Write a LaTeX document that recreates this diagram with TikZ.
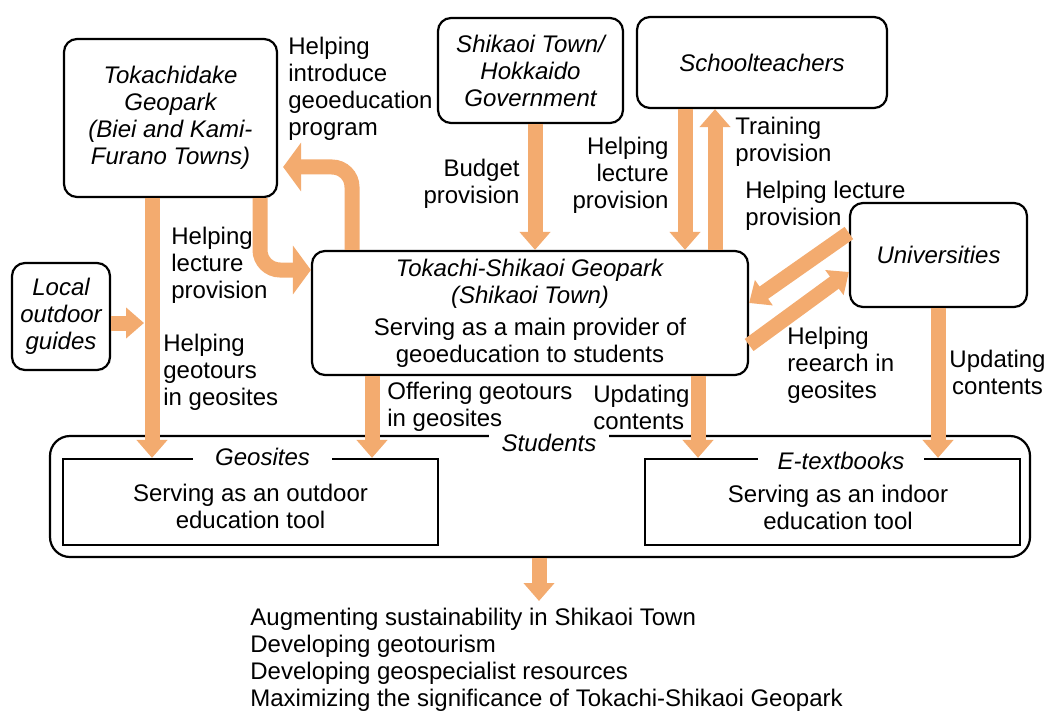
\documentclass[tikz,border=0pt]{standalone}
\usepackage{fontspec}
\setmainfont{Liberation Sans}
\usetikzlibrary{arrows.meta}
\definecolor{flowcol}{RGB}{243,171,111}
\newcommand{\figfont}{\fontsize{12}{13.5}\selectfont}

\begin{document}
\begin{tikzpicture}[x=0.5pt,y=-0.5pt,font=\figfont,
  box/.style={draw,line width=1.1pt,rounded corners=6.5pt,align=center,inner sep=0pt},
  tool/.style={draw,line width=1.1pt,inner sep=0pt,minimum width=187.5pt,minimum height=43pt},
  tag/.style={fill=white,inner ysep=1pt,font=\figfont\itshape},
  lbl/.style={align=left,inner sep=0pt},
  flow/.style={flowcol,line width=7.5pt,-{Triangle[width=15pt,length=9pt]}},
  bent/.style={flowcol,line width=7.5pt,rounded corners=10pt,-{Triangle[width=24pt,length=9pt]}}]
\useasboundingbox (0,0) rectangle (1047,711);

\node[box,minimum width=106.5pt,minimum height=79pt,font=\figfont\itshape] (tok) at (170.5,118) {Tokachidake\\Geopark\\(Biei and Kami-\\Furano Towns)};
\node[box,minimum width=92.5pt,minimum height=52.5pt,font=\figfont\itshape] (gov) at (530.5,70.5) {Shikaoi Town/\\Hokkaido\\Government};
\node[box,minimum width=125pt,minimum height=45.5pt,font=\figfont\itshape] (tea) at (762,62.5) {Schoolteachers};
\node[box,minimum width=49pt,minimum height=53.5pt,font=\figfont\itshape] (guide) at (61,316.5) {Local\\outdoor\\guides};
\node[box,minimum width=218pt,minimum height=62pt] (main) at (530,313) {\textit{Tokachi-Shikaoi Geopark}\\\textit{(Shikaoi Town)}\\[2.5pt]Serving as a main provider of\\geoeducation to students};
\node[box,minimum width=88.5pt,minimum height=52pt,font=\figfont\itshape] (uni) at (938.5,255) {Universities};

\node[box,rounded corners=10pt,minimum width=490pt,minimum height=60.5pt] (stud) at (540,496.5) {};
\node[tool] (geo) at (250.5,502) {};
\node[tool] (etx) at (832.5,502) {};
\node[align=center,inner sep=0pt] (geotext) at (250.5,506) {Serving as an outdoor\\education tool};
\node[align=center,inner sep=0pt] (etxtext) at (838,507) {Serving as an indoor\\education tool};
\node[tag,inner xsep=11pt] (geotag) at (262.5,457) {Geosites};
\node[tag,inner xsep=10pt] (etxtag) at (841,461) {E-textbooks};
\node[tag,inner xsep=6.5pt] (studtag) at (549,443) {Students};

\node[lbl,anchor=west] (intro) at (288,89) {Helping\\introduce\\geoeducation\\program};
\node[lbl,anchor=west] (lect1) at (171,265) {Helping\\lecture\\provision};
\node[lbl,anchor=west] (guidetour) at (163,372) {Helping\\geotours\\in geosites};
\node[lbl,anchor=east,align=right] (budget) at (520,184) {Budget\\provision};
\node[lbl,anchor=east,align=right] (lect2) at (669,175) {Helping\\lecture\\provision};
\node[lbl,anchor=west] (train) at (735,142) {Training\\provision};
\node[lbl,anchor=west] (lect3) at (745,206) {Helping lecture\\provision};
\node[lbl,anchor=west] (research) at (787,365) {Helping\\reearch in\\geosites};
\node[lbl,align=center] (upd2) at (997.5,372) {Updating\\contents};
\node[lbl,anchor=west] (offer) at (387,407) {Offering geotours\\in geosites};
\node[lbl,anchor=west] (upd1) at (593,407) {Updating\\contents};
\node[lbl,anchor=west] (outcome) at (250,660) {Augmenting sustainability in Shikaoi Town\\Developing geotourism\\Developing geospecialist resources\\Maximizing the significance of Tokachi-Shikaoi Geopark};

\coordinate (join) at (144,323);
\coordinate (outtip) at (539,601);
\draw[flow] (tok.south -| 152,0) -- (geo.north -| 152,0);
\draw[flow] (guide.east |- join) -- (join);
\draw[bent] (tok.south -| 260,0) |- (main.west |- 0,270);
\draw[bent,shorten >=2.5pt] (main.north -| 352,0) |- (tok.east |- 0,167);
\draw[flow] (gov.south -| 535,0) -- (main.north -| 535,0);
\draw[flow] (tea.south -| 685,0) -- (main.north -| 685,0);
\draw[flow] (main.north -| 715,0) -- (tea.south -| 715,0);
\draw[flow] (uni.west |- 0,233) -- (main.east |- 0,303);
\draw[flow] (main.east |- 0,345) -- (uni.west |- 0,272);
\draw[flow] (uni.south -| 938,0) -- (etx.north -| 938,0);
\draw[flow] (main.south -| 372,0) -- (geo.north -| 372,0);
\draw[flow] (main.south -| 698,0) -- (etx.north -| 698,0);
\draw[flow] (stud.south -| outtip) -- (outtip);
\end{tikzpicture}
\end{document}
